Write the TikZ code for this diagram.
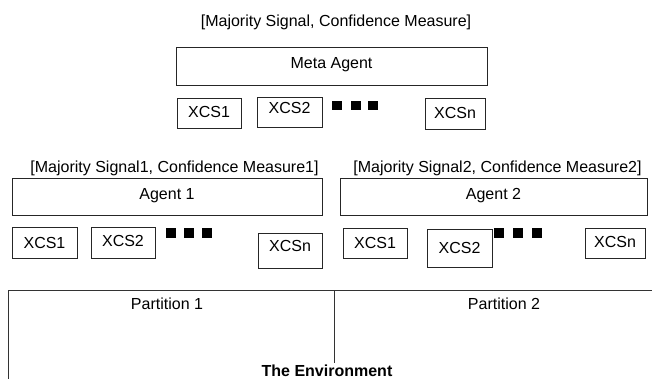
\documentclass[tikz,border=0pt]{standalone}
\usepackage{fontspec}
\setmainfont{Liberation Sans}
\begin{document}
\begin{tikzpicture}[x=1pt,y=-1pt,
  every node/.style={font=\fontsize{16}{19}\selectfont, inner sep=0pt},
  box/.style={draw=black!85, line width=0.9pt, text height=11.5pt},
  dotsq/.style={fill=black, minimum size=9.5pt, inner sep=0pt},
  lbl/.style={anchor=base},
  envline/.style={draw=black!80, line width=1pt}]
\useasboundingbox (0,0) rectangle (652,379);
% top level
\node[lbl] (toplbl) at (336,27) {[Majority Signal, Confidence Measure]};
\node[box, minimum width=311pt, minimum height=38pt, text depth=7pt] (meta) at (331.5,66) {Meta Agent};
\node[box, minimum width=64pt, minimum height=30pt, text depth=2pt] (mx1) at (209,113) {XCS1};
\node[box, minimum width=65pt, minimum height=30pt, text depth=9pt] (mx2) at (289.5,112) {XCS2};
\node[dotsq] (md1) at (337,105.5) {};
\node[dotsq] (md2) at (356,105.5) {};
\node[dotsq] (md3) at (373,105.5) {};
\node[box, minimum width=60pt, minimum height=31pt, text depth=2pt] (mxn) at (455,113.5) {XCSn};
% agent 1
\node[lbl] (lbl1) at (174.5,173) {[Majority Signal1, Confidence Measure1]};
\node[box, minimum width=310pt, minimum height=37pt, text depth=6pt] (ag1) at (167,196.5) {Agent 1};
\node[box, minimum width=65pt, minimum height=31pt, text depth=0pt] (ax1) at (44.5,242.5) {XCS1};
\node[box, minimum width=64pt, minimum height=31pt, text depth=3pt] (ax2) at (123,242.5) {XCS2};
\node[dotsq] (ad1) at (171,233) {};
\node[dotsq] (ad2) at (189,233) {};
\node[dotsq] (ad3) at (207,233) {};
\node[box, minimum width=64pt, minimum height=35pt, text depth=9pt] (axn) at (290,250.5) {XCSn};
% agent 2
\node[lbl] (lbl2) at (497.5,173) {[Majority Signal2, Confidence Measure2]};
\node[box, minimum width=307pt, minimum height=37pt, text depth=6pt] (ag2) at (493.5,196.5) {Agent 2};
\node[box, minimum width=64pt, minimum height=30pt, text depth=1pt] (bx1) at (375,243) {XCS1};
\node[box, minimum width=65pt, minimum height=38pt, text depth=1pt] (bx2) at (459.5,248) {XCS2};
\node[dotsq] (bd1) at (499,233) {};
\node[dotsq] (bd2) at (518,233) {};
\node[dotsq] (bd3) at (537,233) {};
\node[box, minimum width=60pt, minimum height=30pt, text depth=2.6pt] (bxn) at (615,243) {XCSn};
% environment
\coordinate (envbl) at (8,382);
\coordinate (envtl) at (8,290);
\coordinate (envtr) at (655,290);
\coordinate (divt) at (334,290);
\coordinate (divb) at (334,363);
\draw[envline] (envbl) -- (envtl) -- (envtr);
\draw[envline] (divt) -- (divb);
\node[lbl] (p1) at (167,309) {Partition 1};
\node[lbl] (p2) at (504,309) {Partition 2};
\node[lbl, font=\fontsize{16}{19}\selectfont\bfseries] (env) at (327,376) {The Environment};
\end{tikzpicture}
\end{document}
